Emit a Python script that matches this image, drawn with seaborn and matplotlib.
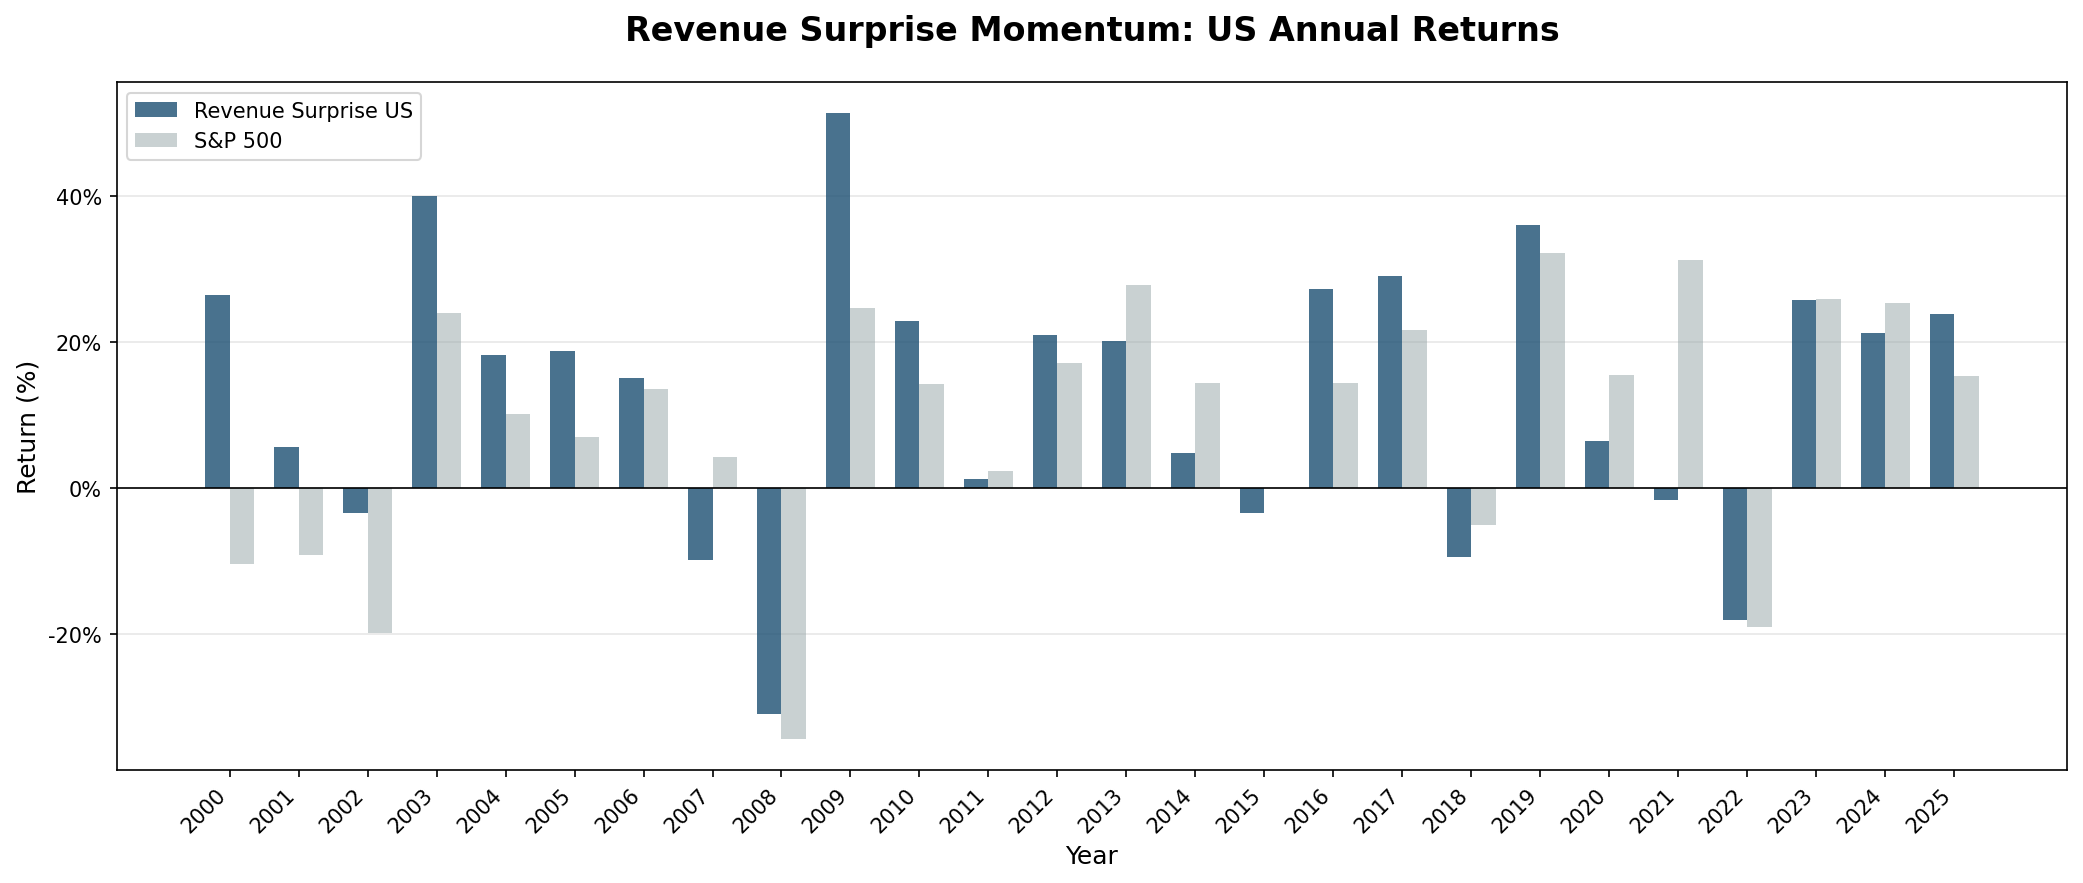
import pandas as pd
import matplotlib
matplotlib.use("Agg")
import matplotlib.pyplot as plt
from matplotlib.ticker import FuncFormatter
import seaborn as sns

# Datos (retornos anuales, %)
years = [str(y) for y in range(2000, 2026)]
revenue_surprise = [26.5, 5.6, -3.4, 40.0, 18.2, 18.8, 15.1, -9.9, -30.9, 51.3,
                    22.9, 1.2, 21.0, 20.1, 4.8, -3.4, 27.2, 29.1, -9.5, 36.0,
                    6.4, -1.6, -18.0, 25.7, 21.2, 23.8]
sp500 = [-10.4, -9.2, -19.9, 24.0, 10.2, 7.0, 13.6, 4.3, -34.3, 24.6,
         14.3, 2.4, 17.1, 27.8, 14.4, 0.0, 14.4, 21.6, -5.1, 32.2,
         15.5, 31.2, -19.0, 25.9, 25.3, 15.4]
series_names = ['Revenue Surprise US', 'S&P 500']

df = pd.DataFrame({
    'Year': years * 2,
    'Series': [series_names[0]] * len(years) + [series_names[1]] * len(years),
    'Return': revenue_surprise + sp500,
})

colors = ['#1B4F72', '#95A5A6']
alphas = [0.8, 0.5]

fig, ax = plt.subplots(figsize=(13.893, 5.893), dpi=150)
fig.subplots_adjust(left=0.056, right=0.992, top=0.906, bottom=0.128)

sns.barplot(data=df, x='Year', y='Return', hue='Series', order=years,
            hue_order=series_names, palette=colors, width=0.7,
            saturation=1, errorbar=None, ax=ax)

for cont, c, a in zip(ax.containers, colors, alphas):
    for p in cont:
        p.set_facecolor(c)
        p.set_alpha(a)
        p.set_edgecolor('none')

ax.axhline(0, color='black', linewidth=0.8)
ax.grid(axis='y', alpha=0.3)
ax.set_axisbelow(True)

n = len(years)
ax.set_xlim(-0.35 - 0.05 * (n - 1 + 0.7), n - 1 + 0.35 + 0.05 * (n - 1 + 0.7))
ax.yaxis.set_major_formatter(FuncFormatter(lambda v, _: f'{v:.0f}%'))
plt.setp(ax.get_xticklabels(), rotation=45, ha='right')

ax.set_title('Revenue Surprise Momentum: US Annual Returns',
             fontsize=16, fontweight='bold', pad=20)
ax.set_xlabel('Year', fontsize=12)
ax.set_ylabel('Return (%)', fontsize=12)
ax.legend(ax.containers, series_names, loc='upper left')

fig.savefig('out.png', dpi=150)
